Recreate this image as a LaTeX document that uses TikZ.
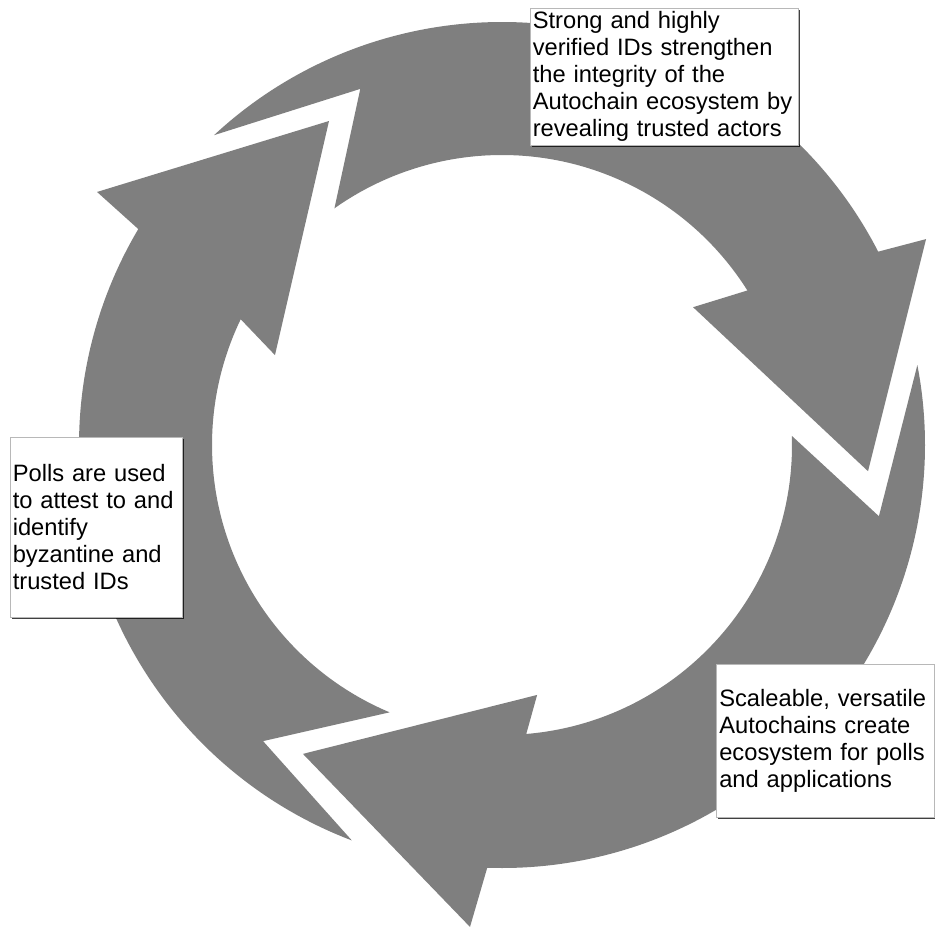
\documentclass[tikz,border=0pt]{standalone}
\usepackage{fontspec}
\setmainfont{Liberation Sans}
\usetikzlibrary{shadows}
\definecolor{arrowgray}{RGB}{127,127,127}
\begin{document}
\begin{tikzpicture}[x=1pt,y=1pt,
  arrowshape/.style={fill=arrowgray, draw=none},
  textbox/.style={draw=black!28, line width=0.6pt, fill=white, anchor=north west,
    align=left, inner ysep=0pt,
    font=\fontsize{23.7}{27}\selectfont,
    drop shadow={shadow xshift=1.8pt, shadow yshift=-1.8pt, fill=black, opacity=0.75}}]
\useasboundingbox (0,0) rectangle (935,-928);
\begin{scope}[shift={(502,-445)}]
  % arrow 1 (left side, pointing up)
  \fill[arrowshape] (249.2:423) arc[start angle=249.2, end angle=149.3, radius=423]
    -- (148.0:477.5) -- (118.1:367.3) -- (158.4:244.2) -- (154.3:290)
    arc[start angle=154.3, end angle=247.2, radius=290] -- (231.1:380.5) -- cycle;
  % arrow 2 (top, pointing down right)
  \fill[arrowshape] (132.9:423) arc[start angle=132.9, end angle=27.2, radius=423]
    -- (25.9:471.4) -- (-4.1:367) -- (35.8:235.6) -- (32.2:290)
    arc[start angle=32.2, end angle=125.3, radius=290] -- (111.7:383.3) -- cycle;
  % arrow 3 (right and bottom, pointing left)
  \fill[arrowshape] (10.9:423) arc[start angle=10.9, end angle=-92.0, radius=423]
    -- (-93.8:483) -- (-122.8:367.5) -- (-82.0:252.4) -- (-85.2:290)
    arc[start angle=-85.2, end angle=1.8, radius=290] -- (-10.7:383.6) -- cycle;
\end{scope}
\node[textbox, minimum width=268pt, minimum height=137pt, text width=263pt, inner xsep=2.5pt]
  (t1) at (530,-8) {Strong and highly\\verified IDs strengthen\\the integrity of the\\Autochain ecosystem by\\revealing trusted actors};
\node[textbox, minimum width=172pt, minimum height=180pt, text width=167pt, inner xsep=2.5pt]
  (t2) at (10,-437) {Polls are used\\to attest to and\\identify\\byzantine and\\trusted IDs};
\node[textbox, minimum width=218pt, minimum height=153pt, text width=212pt, inner xsep=3pt]
  (t3) at (716,-664) {Scaleable, versatile\\Autochains create\\ecosystem for polls\\and applications};
\end{tikzpicture}
\end{document}
